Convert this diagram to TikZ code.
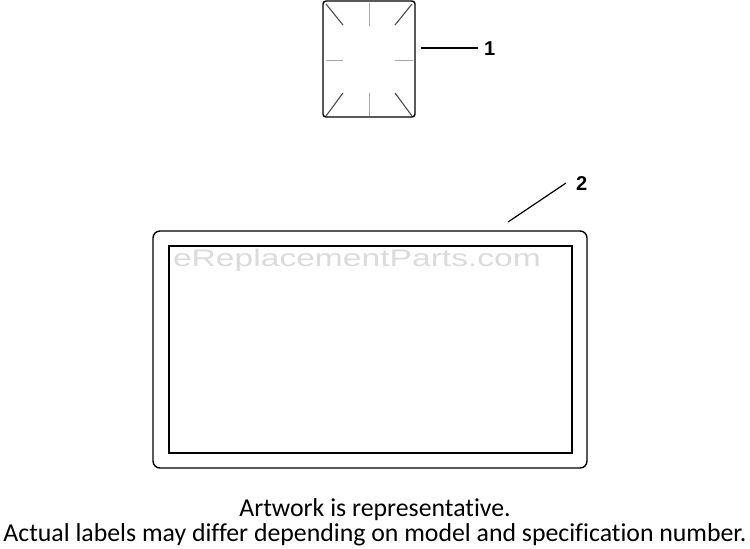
\documentclass[tikz,border=0pt]{standalone}
\usepackage{fontspec}
\setmainfont{Carlito}[Ligatures=NoCommon]
\newfontfamily\numfont{Liberation Sans}
\begin{document}
\begin{tikzpicture}[x=1pt,y=-1pt,
  part/.style={draw=black,line width=1.4pt,rounded corners=3pt},
  tick/.style={draw=gray!70,line width=1pt},
  diag/.style={draw=black!70,line width=1.1pt},
  leader/.style={draw=black,line width=1.4pt},
  num/.style={font=\numfont\bfseries\fontsize{20}{24}\selectfont,inner sep=0pt},
  note/.style={font=\fontsize{25.8}{30}\selectfont,inner sep=0pt}]
\useasboundingbox (0,0) rectangle (750,549);
% part 1
\draw[part] (323,1) rectangle (415,117);
\draw[tick] (369,3) -- (369,26);
\draw[tick] (369,93) -- (369,116);
\draw[tick] (326,60) -- (343,60);
\draw[tick] (395,60) -- (413,60);
\draw[diag] (326,4) -- (343,25);
\draw[diag] (412,4) -- (395,25);
\draw[diag] (326,116) -- (343,93);
\draw[diag] (412,116) -- (395,93);
\node[num,anchor=base west] (n1) at (484,55) {1};
\coordinate (l1a) at (421,48);
\coordinate (l1b) at (478,48);
\draw[leader] (l1a) -- (l1b);
% part 2
\draw[part,rounded corners=7pt] (153,231) rectangle (587,468);
\draw[draw=black,line width=1.6pt] (169,246) rectangle (572,453);
\node[font=\numfont\fontsize{24}{28}\selectfont,text=gray!28,inner sep=0pt,anchor=base,xscale=1.4] (wm) at (357,266) {eReplacementParts.com};
\node[num,anchor=base west] (n2) at (576,190) {2};
\coordinate (l2a) at (508,222);
\coordinate (l2b) at (566,183);
\draw[leader,line width=1.2pt] (l2a) -- (l2b);
% notes
\node[note,anchor=base] (t1) at (375,516) {Artwork is representative.};
\node[note,anchor=base] (t2) at (375,541) {Actual labels may differ depending on model and specification number.};
\end{tikzpicture}
\end{document}
